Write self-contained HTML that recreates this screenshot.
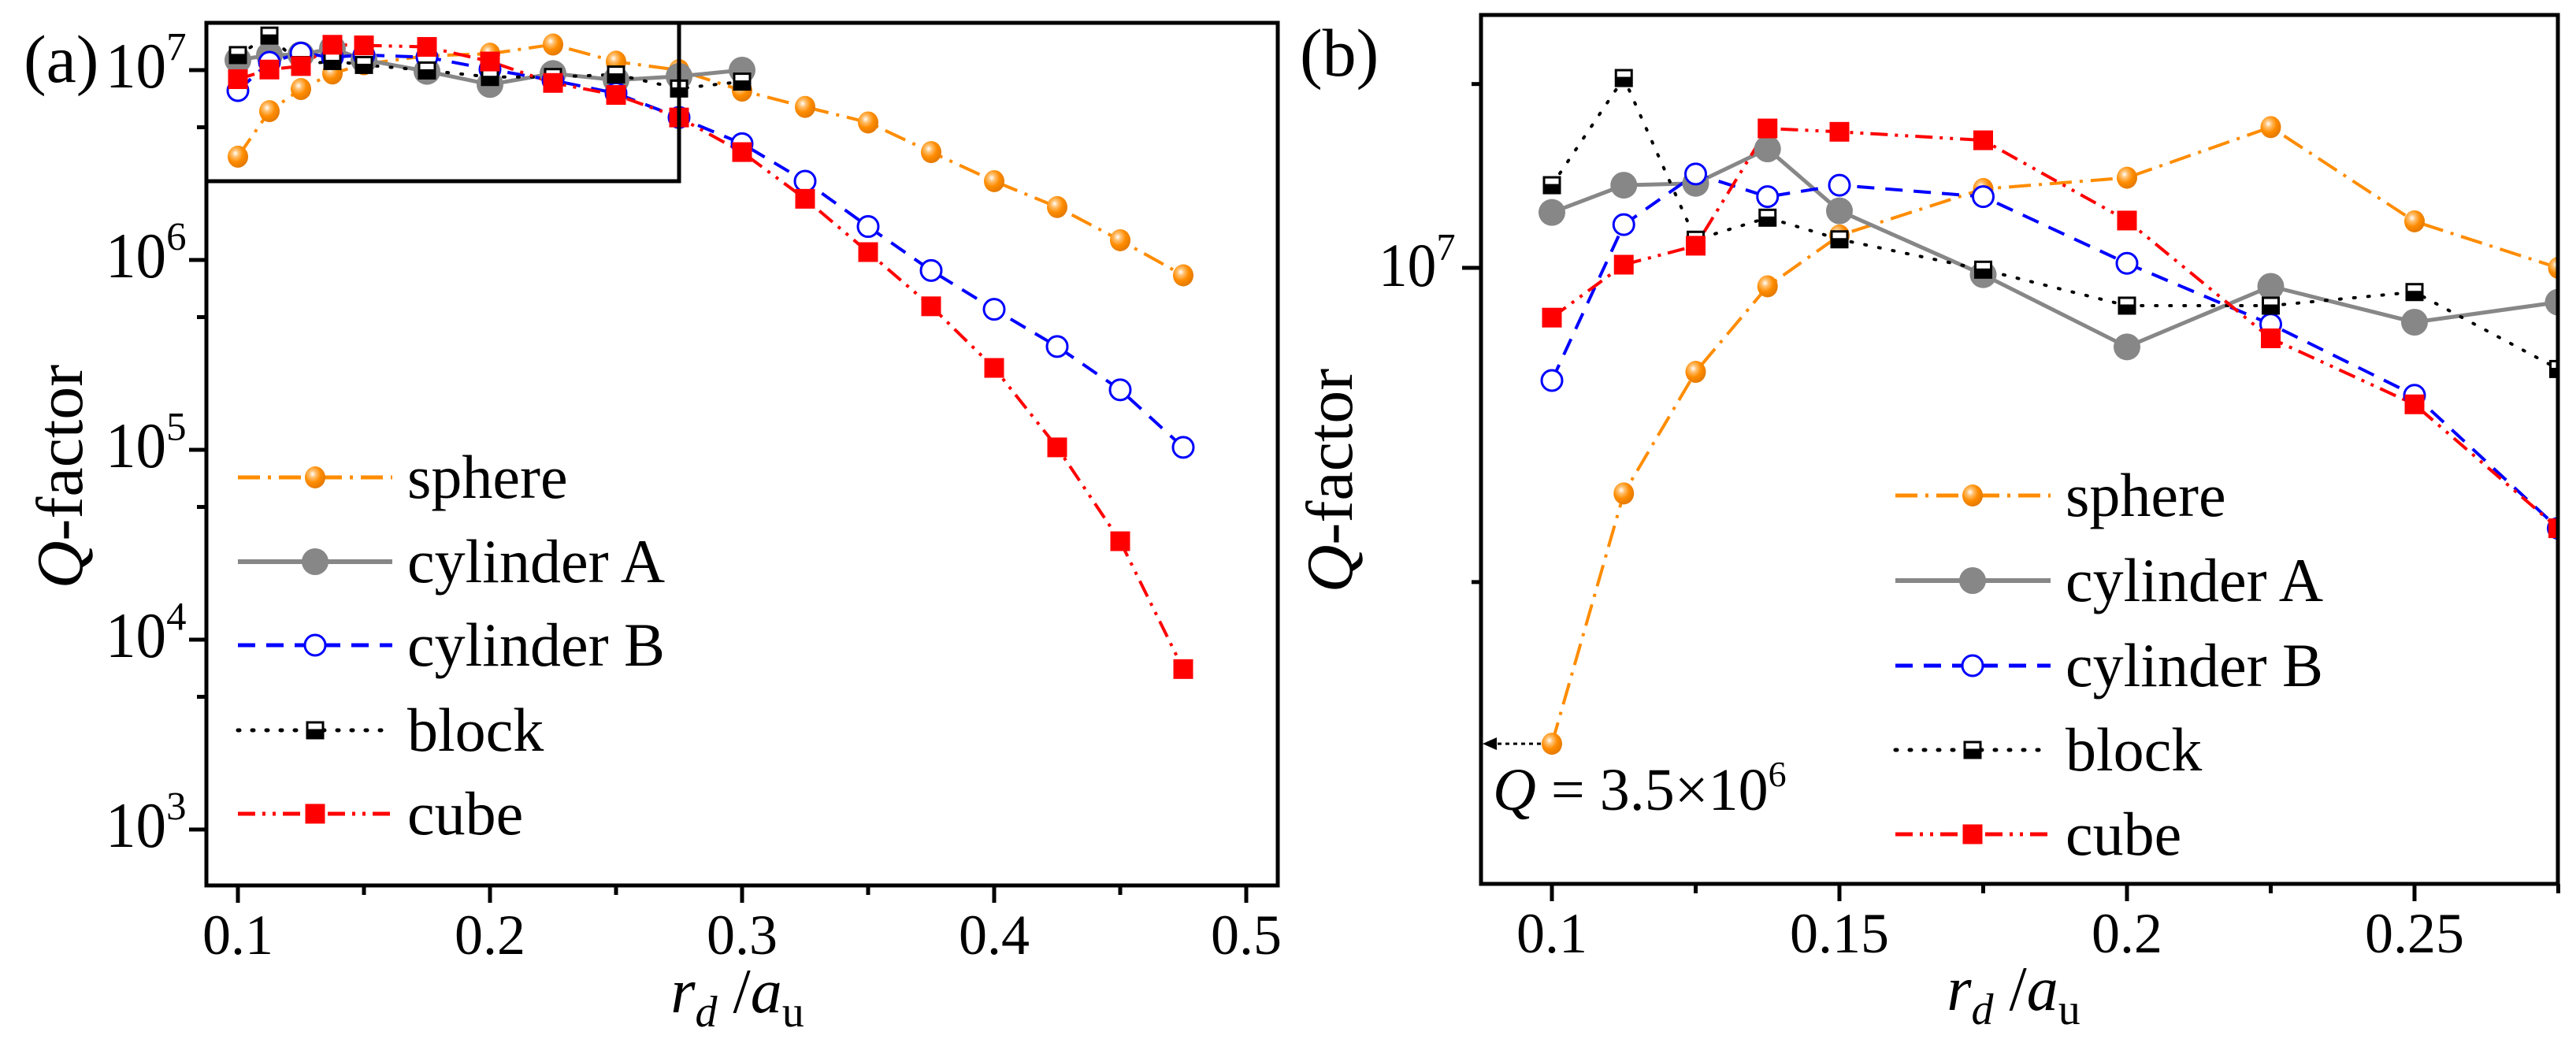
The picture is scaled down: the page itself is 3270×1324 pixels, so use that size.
<!DOCTYPE html>
<html><head><meta charset="utf-8"><style>
html,body{margin:0;padding:0;background:#fff;overflow:hidden;width:3270px;height:1324px;}
svg{display:block;position:absolute;left:0;top:0;}
text{font-family:"Liberation Serif","Noto Serif CJK SC","DejaVu Serif",serif;}
</style></head><body>
<svg id="fig" width="3270" height="1324" viewBox="0 0 3270 1324" xmlns="http://www.w3.org/2000/svg">
<defs>
<radialGradient id="ball" cx="0.38" cy="0.35" r="0.65">
<stop offset="0" stop-color="#ffffff"/><stop offset="0.25" stop-color="#ffc070"/><stop offset="0.6" stop-color="#ff8c00"/><stop offset="1" stop-color="#e57a00"/>
</radialGradient>
<clipPath id="clipA"><rect x="262" y="29" width="1360" height="1095"/></clipPath>
<clipPath id="clipB"><rect x="1880" y="19" width="1367" height="1103"/></clipPath>
</defs>
<g id="panelA"></g>
<g id="panelB"></g>
</svg>
<script>
// ---- data ----
const rdX = [0.1,0.1125,0.125,0.1375,0.15,0.175,0.2,0.225,0.25,0.275,0.3,0.325,0.35,0.375,0.4,0.425,0.45,0.475];
const sphereQ = [3.5e6,6.08e6,7.95e6,9.6e6,1.074e7,1.19e7,1.22e7,1.364e7,1.108e7,1.0e7,7.8e6,6.4e6,5.3e6,3.7e6,2.6e6,1.9e6,1.27e6,8.3e5];
const cylAQ = [1.13e7,1.2e7,1.205e7,1.3e7,1.134e7,9.85e6,8.4e6,9.6e6,8.87e6,9.27e6,1.0e7];
const cylBQ = [7.8e6,1.1e7,1.23e7,1.17e7,1.2e7,1.17e7,1.01e7,8.83e6,7.55e6,5.63e6,4.1e6,2.6e6,1.5e6,8.8e5,5.5e5,3.5e5,2.07e5,1.03e5];
const blockQ = [1.2e7,1.52e7,1.064e7,1.117e7,1.065e7,9.96e6,9.2e6,9.2e6,9.48e6,8.0e6,8.7e6];
const cubeQ = [8.96e6,1.007e7,1.05e7,1.36e7,1.35e7,1.325e7,1.11e7,8.56e6,7.4e6,5.63e6,3.7e6,2.1e6,1.1e6,5.7e5,2.7e5,1.03e5,3.3e4,7.0e3];
const xTicksA = [0.1,0.2,0.3,0.4,0.5];
const xTickLabelsA = ["0.1","0.2","0.3","0.4","0.5"];
const yExpA = [3,4,5,6,7];
const xTicksB = [0.1,0.15,0.2,0.25];
const xTickLabelsB = ["0.1","0.15","0.2","0.25"];
const annotQ = 3.5e6;

const NS="http://www.w3.org/2000/svg";
const FF="'Liberation Serif','Noto Serif CJK SC','DejaVu Serif',serif";
function mk(parent,tag,attrs){const e=document.createElementNS(NS,tag);for(const k in attrs)e.setAttribute(k,attrs[k]);if(tag==="text")e.setAttribute("font-family",FF);parent.appendChild(e);return e;}

const xa=v=>302+(v-0.1)*3200, ya=q=>89+(7-Math.log10(q))*241;
const xb=v=>1970+(v-0.1)*7300, yb=q=>340+(7-Math.log10(q))*1325;

const series=[
 {name:"sphere",q:sphereQ,color:"#ff8c00",w:4,dash:"28 10 4 10",mk:"ball"},
 {name:"cylinder A",q:cylAQ,color:"#878787",w:5,dash:"",mk:"gray"},
 {name:"cylinder B",q:cylBQ,color:"#0000ff",w:4,dash:"22 14",mk:"open"},
 {name:"block",q:blockQ,color:"#000000",w:4,dash:"2 16",mk:"half",cap:"round"},
 {name:"cube",q:cubeQ,color:"#ff0000",w:4,dash:"22 9 4 9 4 9",mk:"sq"}
];
function slug(s){return s.replace(/\s+/g,'-').toLowerCase();}

function marker(g,type,x,y,nm){
 let e;
 if(type==="ball"){e=mk(g,"ellipse",{cx:x,cy:y,rx:13,ry:14,fill:"url(#ball)"});}
 else if(type==="gray"){e=mk(g,"circle",{cx:x,cy:y,r:17,fill:"#878787"});}
 else if(type==="open"){e=mk(g,"circle",{cx:x,cy:y,r:13,fill:"#fff",stroke:"#0000ff","stroke-width":3});}
 else if(type==="sq"){e=mk(g,"rect",{x:x-12.5,y:y-12.5,width:25,height:25,fill:"#ff0000"});}
 else { e=mk(g,"g",{});
  mk(e,"rect",{x:x-11.5,y:y-11.5,width:23,height:23,fill:"#000"});
  mk(e,"rect",{x:x-8.5,y:y-8.5,width:17,height:7,fill:"#fff"});
 }
 
 
}

function drawSeries(g,X,Y,clip,tag){
 const sg=mk(g,"g",{"clip-path":"url(#"+clip+")"});
 
 
 series.forEach(s=>{
  const pts=s.q.map((q,i)=>X(rdX[i]).toFixed(1)+","+Y(q).toFixed(1)).join(" ");
  const pl=mk(sg,"polyline",{points:pts,fill:"none",stroke:s.color,"stroke-width":s.w,"stroke-dasharray":s.dash,"stroke-linecap":s.cap||"butt","stroke-linejoin":"round"});
  
  
 });
 series.forEach(s=>{
  s.q.forEach((q,i)=>marker(sg,s.mk,X(rdX[i]),Y(q),slug(s.name)+'-point'));
 });
}

function legend(g,x0,x1,xm,xt,ys){
 series.forEach((s,i)=>{
  const lg=mk(g,"g",{});
  
  
  mk(lg,"line",{x1:x0,y1:ys[i],x2:x1,y2:ys[i],stroke:s.color,"stroke-width":s.w+1,"stroke-dasharray":s.dash,"stroke-linecap":s.cap||"butt"});
  marker(lg,s.mk,xm,ys[i],'legend-marker');
  const t=mk(lg,"text",{x:xt,y:ys[i]+26,"font-size":78});
  t.textContent=s.name;
 });
}

function txt(g,x,y,size,str,anchor,name){const t=mk(g,"text",{x:x,y:y,"font-size":size,"text-anchor":anchor||"start"});t.textContent=str;return t;}
function pow10(g,xl,y,e,size,name){
 const t=mk(g,"text",{x:xl,y:y,"font-size":size});
 
 const a=mk(t,"tspan",{textLength:size*0.94,lengthAdjust:"spacingAndGlyphs"});a.textContent="10";
 const b=mk(t,"tspan",{dy:-size*0.42,"font-size":size*0.62});b.textContent=String(e);
}
function xTitle(g,cx,y,name){
 const t=mk(g,"text",{x:cx,y:y,"font-size":80,"text-anchor":"middle"});
 
 let s=mk(t,"tspan",{"font-style":"italic"});s.textContent="r";
 s=mk(t,"tspan",{"font-style":"italic","font-size":56,dy:18});s.textContent="d";
 s=mk(t,"tspan",{dy:-18});s.textContent=" /";
 s=mk(t,"tspan",{"font-style":"italic"});s.textContent="a";
 s=mk(t,"tspan",{"font-size":56,dy:18});s.textContent="u";
}
function yTitle(g,cx,cy,name){
 const t=mk(g,"text",{x:0,y:0,"font-size":84,"text-anchor":"middle",transform:"translate("+cx+","+cy+") rotate(-90)"});
 
 let s=mk(t,"tspan",{"font-style":"italic"});s.textContent="Q";
 s=mk(t,"tspan",{});s.textContent="-factor";
}

// ---- Panel A ----
const A=document.getElementById("panelA");
drawSeries(A,xa,ya,"clipA","panel-a");
let fr=mk(A,"rect",{x:262,y:29,width:1360,height:1095,fill:"none",stroke:"#000","stroke-width":5});

let ins=mk(A,"rect",{x:262,y:29,width:600,height:201,fill:"none",stroke:"#000","stroke-width":5});

yExpA.forEach(e=>{
 const y=ya(Math.pow(10,e));
 let tk=mk(A,"line",{x1:240,y1:y,x2:262,y2:y,stroke:"#000","stroke-width":5});
 
 pow10(A,134,y+22,e,82,'y-tick-label-a');
 const y5=ya(5*Math.pow(10,e));let m=mk(A,"line",{x1:250,y1:y5,x2:262,y2:y5,stroke:"#000","stroke-width":5});
});
xTicksA.forEach((v,i)=>{
 const x=xa(v);
 let tk=mk(A,"line",{x1:x,y1:1124,x2:x,y2:1146,stroke:"#000","stroke-width":5});
 
 txt(A,x,1211,72,xTickLabelsA[i],"middle",'x-tick-label-a');
 if(i<xTicksA.length-1){const xm=xa(v+0.05);let m=mk(A,"line",{x1:xm,y1:1124,x2:xm,y2:1136,stroke:"#000","stroke-width":5});}
});
xTitle(A,936,1285,'x-axis-title-a');
yTitle(A,104,605,'y-axis-title-a');
txt(A,30,104,86,"(a)","start",'panel-label-a');
legend(A,302,498,400,517,[606,713,819,927,1033]);

// ---- Panel B ----
const B=document.getElementById("panelB");
drawSeries(B,xb,yb,"clipB","panel-b");
fr=mk(B,"rect",{x:1880,y:19,width:1367,height:1103,fill:"none",stroke:"#000","stroke-width":5});

[[5e6,12],[1e7,24],[1.5e7,12]].forEach(([q,len])=>{
 const y=yb(q);let tk=mk(B,"line",{x1:1880-len,y1:y,x2:1880,y2:y,stroke:"#000","stroke-width":5});
 
});
pow10(B,1750,yb(1e7)+23,7,78,'y-tick-label-b');
xTicksB.forEach((v,i)=>{
 const x=xb(v);
 let tk=mk(B,"line",{x1:x,y1:1122,x2:x,y2:1144,stroke:"#000","stroke-width":5});
 
 txt(B,x,1209,72,xTickLabelsB[i],"middle",'x-tick-label-b');
 const xm=xb(v+0.025);let m=mk(B,"line",{x1:xm,y1:1122,x2:xm,y2:1134,stroke:"#000","stroke-width":5});
});
xTitle(B,2556,1282,'x-axis-title-b');
yTitle(B,1716,610,'y-axis-title-b');
txt(B,1650,96,86,"(b)","start",'panel-label-b');
legend(B,2406,2603,2504,2622,[629,737,845,952,1059]);
// annotation
const ay=yb(annotQ);
let ar=mk(B,"line",{x1:1956,y1:ay,x2:1896,y2:ay,stroke:"#000","stroke-width":3,"stroke-dasharray":"5 5"});

let ah=mk(B,"polygon",{points:"1882,"+ay+" 1900,"+(ay-8)+" 1900,"+(ay+8),fill:"#000"});

{const t=mk(B,"text",{x:1895,y:1028,"font-size":76});
 
 let s=mk(t,"tspan",{"font-style":"italic"});s.textContent="Q";
 s=mk(t,"tspan",{});s.textContent=" = 3.5×10";
 s=mk(t,"tspan",{dy:-30,"font-size":46});s.textContent="6";}
</script>
</body></html>
